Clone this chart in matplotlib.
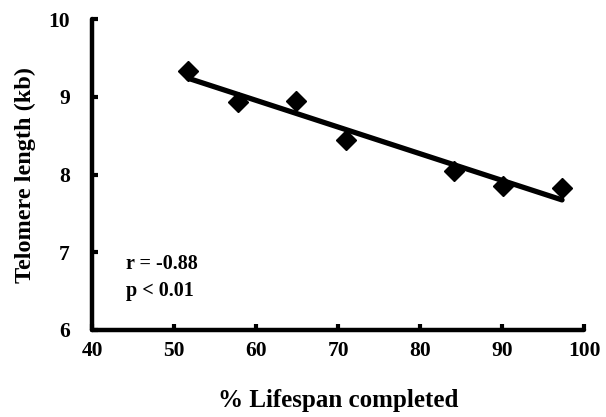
import numpy as np
import matplotlib
matplotlib.use("Agg")
import matplotlib.pyplot as plt

lifespan = [51.7, 57.8, 64.8, 70.9, 84.1, 90.1, 97.3]
telomere = [9.33, 8.93, 8.95, 8.44, 8.04, 7.85, 7.82]
x_ticks = [40, 50, 60, 70, 80, 90, 100]
y_ticks = [6, 7, 8, 9, 10]

plt.rcParams['font.family'] = ['Liberation Serif', 'DejaVu Serif']
plt.rcParams['font.weight'] = 'bold'

fig = plt.figure(figsize=(6.06, 4.17), dpi=100)
ax = fig.add_axes([0.152, 0.209, 0.812, 0.745])

ax.plot(lifespan, telomere, linestyle='none', marker='D', markersize=10,
        color='black', zorder=3)
coef = np.polyfit(lifespan, telomere, 1)
xs = np.array([min(lifespan), max(lifespan)])
ax.plot(xs, np.polyval(coef, xs), color='black', linewidth=3.8,
        solid_capstyle='round', zorder=2)

ax.set_xlim(40, 100)
ax.set_ylim(6, 10)
ax.set_xticks(x_ticks)
ax.set_yticks(y_ticks)
for s in ['top', 'right']:
    ax.spines[s].set_visible(False)
for s in ['left', 'bottom']:
    ax.spines[s].set_linewidth(3.2)
    ax.spines[s].set_capstyle('round')
ax.tick_params(direction='in', length=4, width=3, labelsize=15.5)
ax.tick_params(axis='x', pad=8)
ax.tick_params(axis='y', pad=16)
for lab in ax.get_xticklabels() + ax.get_yticklabels():
    lab.set_fontweight('bold')

ax.set_xlabel('% Lifespan completed', fontsize=18, fontweight='bold', labelpad=20)
ax.set_ylabel('Telomere length (kb)', fontsize=17.5, fontweight='bold', labelpad=9)

ax.text(44.1, 6.85, 'r = -0.88', fontsize=14.5, fontweight='bold', va='center')
ax.text(44.1, 6.5, 'p < 0.01', fontsize=14.5, fontweight='bold', va='center')

fig.savefig('out.png', dpi=100)
